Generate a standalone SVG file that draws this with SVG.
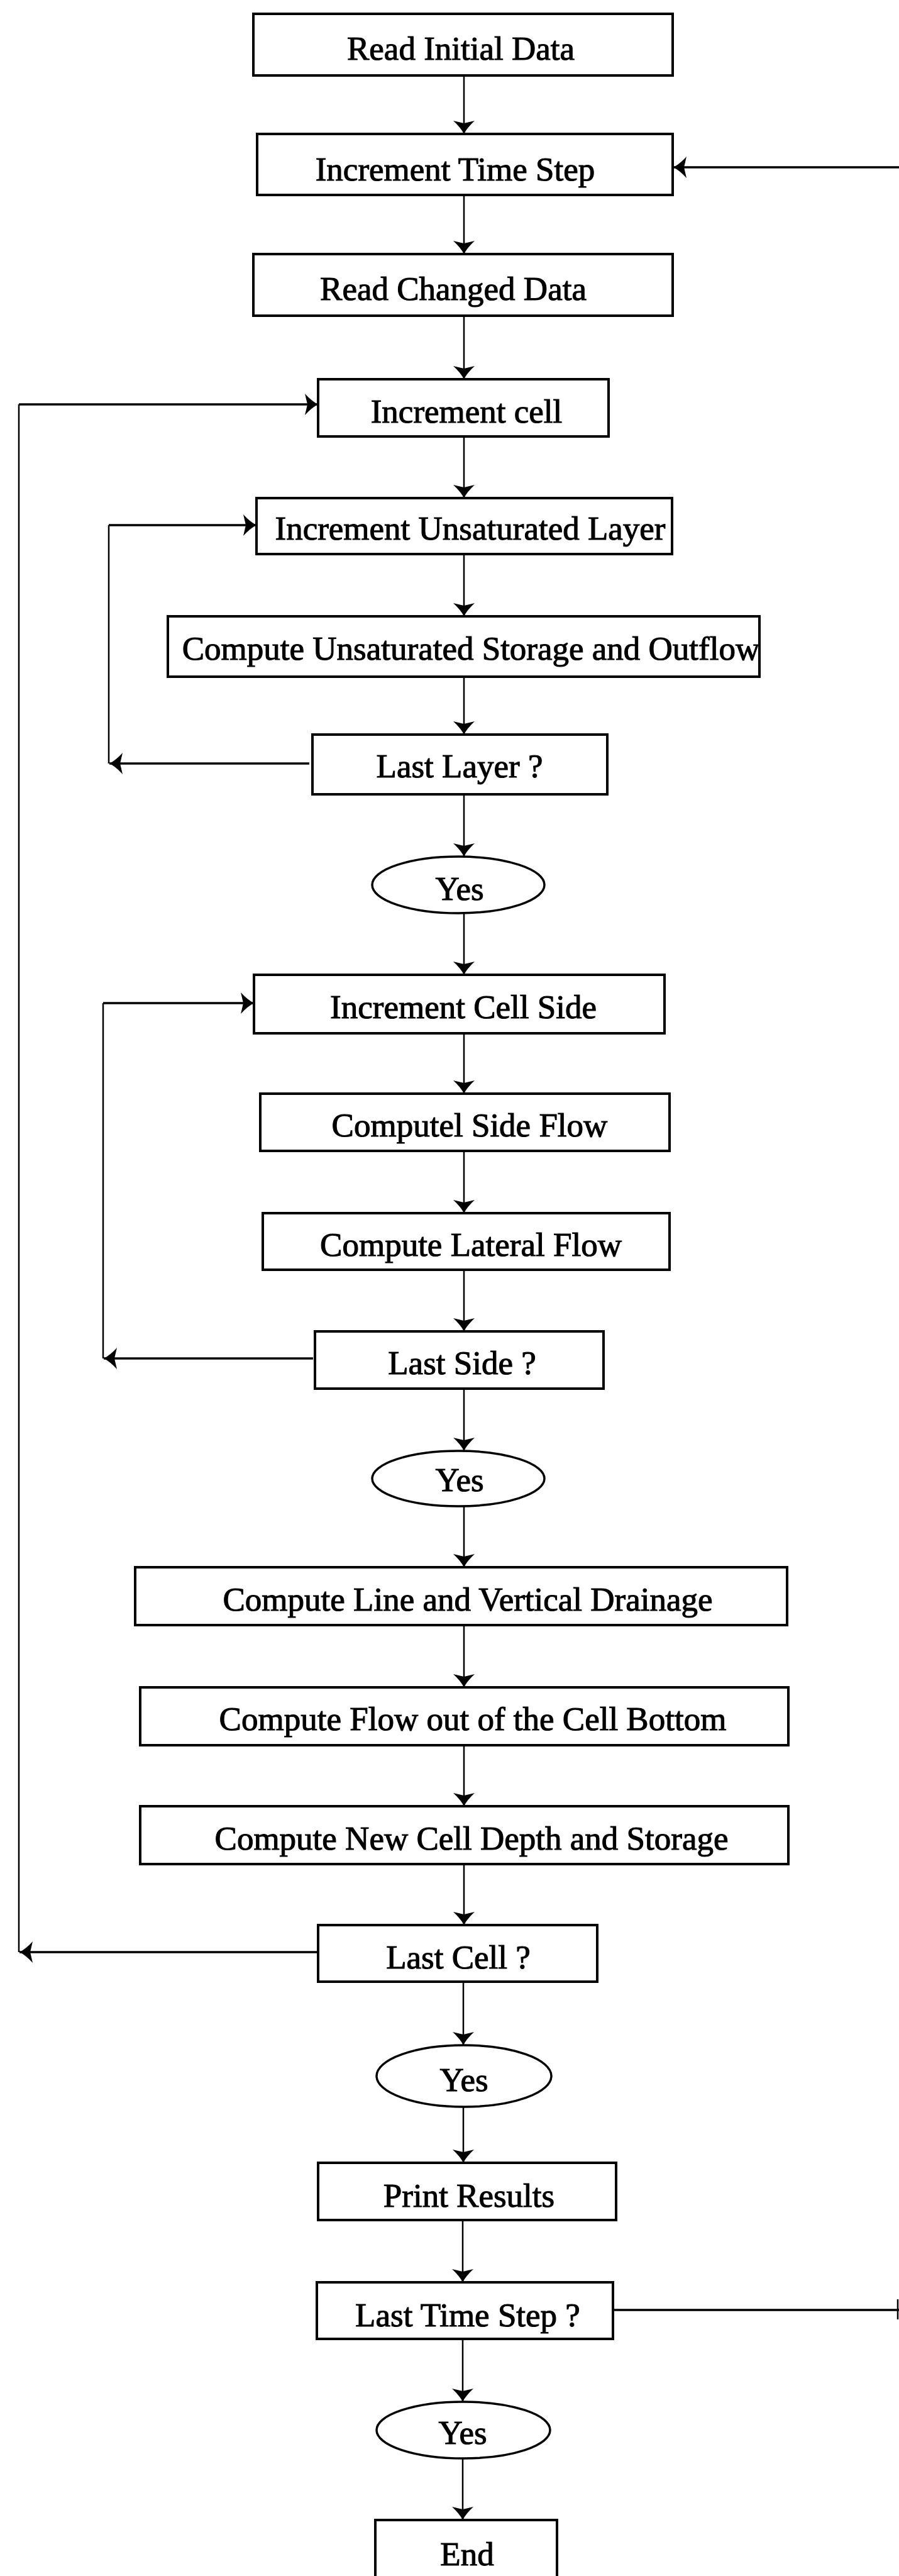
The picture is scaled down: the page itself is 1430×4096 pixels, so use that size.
<svg xmlns="http://www.w3.org/2000/svg" width="1430" height="4096" viewBox="0 0 1430 4096">
  <style>
    .box { fill: #fff; stroke: #000; stroke-width: 4; }
    .oval { fill: #fff; stroke: #000; stroke-width: 3.5; }
    .lbl { font-family: "Liberation Serif", "Times New Roman", serif; font-size: 53px; text-anchor: middle; fill: #000; stroke: #000; stroke-width: 1.1; }
    .wire { fill: none; stroke: #000; stroke-width: 2.5; }
    .wire-h { fill: none; stroke: #000; stroke-width: 3.5; }
  </style>
  <defs>
    <marker id="ah" markerUnits="userSpaceOnUse" viewBox="-24 -20 26 40" markerWidth="26" markerHeight="40" refX="0" refY="0" orient="auto" overflow="visible">
      <path d="M0,0 Q-10,-5 -21,-17 L-17,0 L-21,17 Q-10,5 0,0 Z" fill="#000"/>
    </marker>
  </defs>
  <rect width="1430" height="4096" fill="#fff"/>

  <!-- connectors -->
  <g id="connectors">
    <!-- main downward flow -->
    <line class="wire" x1="738" y1="120" x2="738" y2="213" marker-end="url(#ah)"/>
    <line class="wire" x1="738" y1="310" x2="738" y2="404" marker-end="url(#ah)"/>
    <line class="wire" x1="738" y1="502" x2="738" y2="603" marker-end="url(#ah)"/>
    <line class="wire" x1="738" y1="694" x2="738" y2="792" marker-end="url(#ah)"/>
    <line class="wire" x1="738" y1="881" x2="738" y2="980" marker-end="url(#ah)"/>
    <line class="wire" x1="738" y1="1076" x2="738" y2="1168" marker-end="url(#ah)"/>
    <line class="wire" x1="738" y1="1263" x2="738" y2="1362" marker-end="url(#ah)"/>
    <line class="wire" x1="738" y1="1452" x2="738" y2="1550" marker-end="url(#ah)"/>
    <line class="wire" x1="738" y1="1643" x2="738" y2="1739" marker-end="url(#ah)"/>
    <line class="wire" x1="738" y1="1830" x2="738" y2="1929" marker-end="url(#ah)"/>
    <line class="wire" x1="738" y1="2019" x2="738" y2="2117" marker-end="url(#ah)"/>
    <line class="wire" x1="738" y1="2208" x2="738" y2="2307" marker-end="url(#ah)"/>
    <line class="wire" x1="738" y1="2395" x2="738" y2="2492" marker-end="url(#ah)"/>
    <line class="wire" x1="738" y1="2584" x2="738" y2="2683" marker-end="url(#ah)"/>
    <line class="wire" x1="738" y1="2775" x2="738" y2="2872" marker-end="url(#ah)"/>
    <line class="wire" x1="738" y1="2964" x2="738" y2="3061" marker-end="url(#ah)"/>
    <line class="wire" x1="737" y1="3151" x2="737" y2="3252" marker-end="url(#ah)"/>
    <line class="wire" x1="737" y1="3350" x2="737" y2="3439" marker-end="url(#ah)"/>
    <line class="wire" x1="736" y1="3530" x2="736" y2="3629" marker-end="url(#ah)"/>
    <line class="wire" x1="736" y1="3719" x2="736" y2="3819" marker-end="url(#ah)"/>
    <line class="wire" x1="736" y1="3909" x2="736" y2="4007" marker-end="url(#ah)"/>

    <!-- time step loop (runs along the right edge) -->
    <line class="wire-h" x1="975" y1="3673" x2="1430" y2="3673"/>
    <line class="wire" x1="1428" y1="3656" x2="1428" y2="3688"/>
    <line class="wire-h" x1="1430" y1="266" x2="1071" y2="266" marker-end="url(#ah)"/>

    <!-- cell loop -->
    <line class="wire" x1="30" y1="643" x2="30" y2="3104"/>
    <line class="wire-h" x1="30" y1="643" x2="506" y2="643" marker-end="url(#ah)"/>
    <line class="wire-h" x1="506" y1="3104" x2="31" y2="3104" marker-end="url(#ah)"/>

    <!-- unsaturated layer loop -->
    <line class="wire" x1="173" y1="835" x2="173" y2="1214"/>
    <line class="wire-h" x1="173" y1="835" x2="408" y2="835" marker-end="url(#ah)"/>
    <line class="wire-h" x1="492" y1="1214" x2="174" y2="1214" marker-end="url(#ah)"/>

    <!-- cell side loop -->
    <line class="wire" x1="164" y1="1595" x2="164" y2="2160"/>
    <line class="wire-h" x1="164" y1="1595" x2="404" y2="1595" marker-end="url(#ah)"/>
    <line class="wire-h" x1="498" y1="2160" x2="165" y2="2160" marker-end="url(#ah)"/>
  </g>

  <!-- nodes -->
  <g id="read-initial-data">
    <rect class="box" x="403" y="22" width="667" height="98"/>
    <text class="lbl" x="733" y="95">Read Initial Data</text>
  </g>
  <g id="increment-time-step">
    <rect class="box" x="409" y="213" width="661" height="97"/>
    <text class="lbl" x="724" y="287">Increment Time Step</text>
  </g>
  <g id="read-changed-data">
    <rect class="box" x="403" y="404" width="667" height="98"/>
    <text class="lbl" x="721" y="477">Read Changed Data</text>
  </g>
  <g id="increment-cell">
    <rect class="box" x="506" y="603" width="462" height="91"/>
    <text class="lbl" x="742" y="672">Increment cell</text>
  </g>
  <g id="increment-unsaturated-layer">
    <rect class="box" x="408" y="792" width="661" height="89"/>
    <text class="lbl" x="748" y="858">Increment Unsaturated Layer</text>
  </g>
  <g id="compute-unsaturated-storage">
    <rect class="box" x="267" y="980" width="941" height="96"/>
    <text class="lbl" x="749" y="1049">Compute Unsaturated Storage and Outflow</text>
  </g>
  <g id="last-layer">
    <rect class="box" x="497" y="1168" width="469" height="95"/>
    <text class="lbl" x="731" y="1236">Last Layer ?</text>
  </g>
  <g id="yes-layer">
    <ellipse class="oval" cx="729" cy="1407" rx="137" ry="45"/>
    <text class="lbl" x="731" y="1431">Yes</text>
  </g>
  <g id="increment-cell-side">
    <rect class="box" x="404" y="1550" width="653" height="93"/>
    <text class="lbl" x="737" y="1619">Increment Cell Side</text>
  </g>
  <g id="compute-side-flow">
    <rect class="box" x="414" y="1739" width="651" height="91"/>
    <text class="lbl" x="747" y="1807">Computel Side Flow</text>
  </g>
  <g id="compute-lateral-flow">
    <rect class="box" x="418" y="1929" width="647" height="90"/>
    <text class="lbl" x="749" y="1997">Compute Lateral Flow</text>
  </g>
  <g id="last-side">
    <rect class="box" x="501" y="2117" width="459" height="91"/>
    <text class="lbl" x="735" y="2185">Last Side ?</text>
  </g>
  <g id="yes-side">
    <ellipse class="oval" cx="729" cy="2351" rx="137" ry="44"/>
    <text class="lbl" x="731" y="2371">Yes</text>
  </g>
  <g id="compute-line-vertical-drainage">
    <rect class="box" x="215" y="2492" width="1037" height="92"/>
    <text class="lbl" x="744" y="2561">Compute Line and Vertical Drainage</text>
  </g>
  <g id="compute-flow-cell-bottom">
    <rect class="box" x="223" y="2683" width="1031" height="92"/>
    <text class="lbl" x="752" y="2751">Compute Flow out of the Cell Bottom</text>
  </g>
  <g id="compute-new-cell-depth">
    <rect class="box" x="223" y="2872" width="1031" height="92"/>
    <text class="lbl" x="750" y="2941">Compute New Cell Depth and Storage</text>
  </g>
  <g id="last-cell">
    <rect class="box" x="506" y="3061" width="444" height="90"/>
    <text class="lbl" x="729" y="3130">Last Cell ?</text>
  </g>
  <g id="yes-cell">
    <ellipse class="oval" cx="738" cy="3301" rx="139" ry="49"/>
    <text class="lbl" x="738" y="3325">Yes</text>
  </g>
  <g id="print-results">
    <rect class="box" x="506" y="3439" width="474" height="91"/>
    <text class="lbl" x="746" y="3509">Print Results</text>
  </g>
  <g id="last-time-step">
    <rect class="box" x="504" y="3629" width="471" height="90"/>
    <text class="lbl" x="744" y="3699">Last Time Step ?</text>
  </g>
  <g id="yes-time-step">
    <ellipse class="oval" cx="737" cy="3864" rx="138" ry="45"/>
    <text class="lbl" x="736" y="3886">Yes</text>
  </g>
  <g id="end">
    <rect class="box" x="597" y="4007" width="289" height="120"/>
    <text class="lbl" x="743" y="4079">End</text>
  </g>
</svg>
